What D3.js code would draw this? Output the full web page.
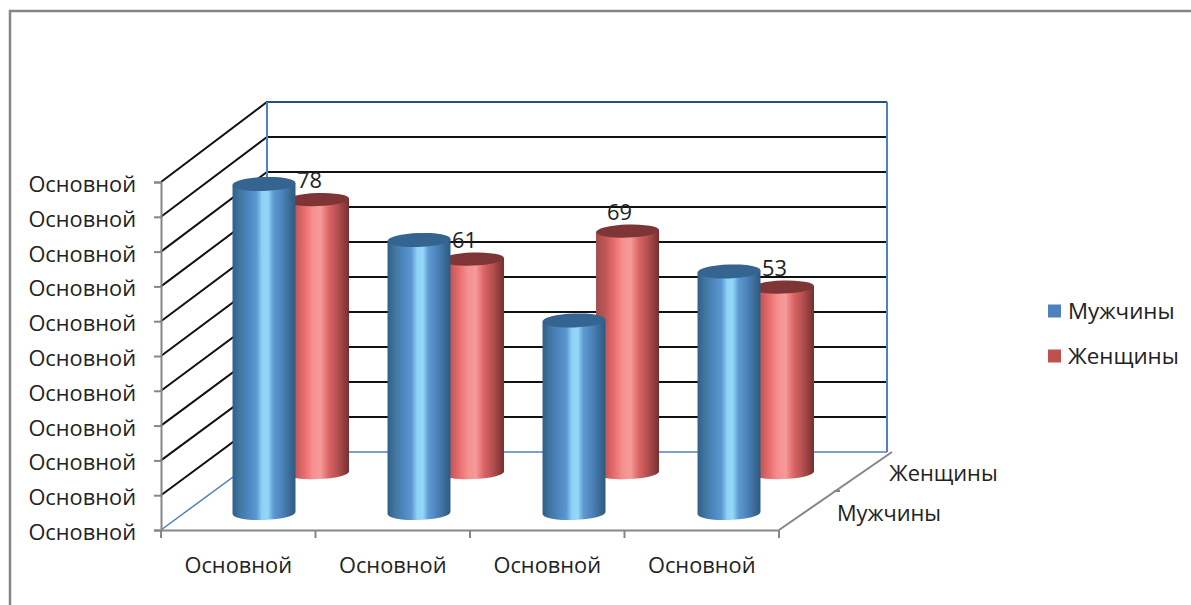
<!DOCTYPE html>
<html lang="ru">
<head>
<meta charset="utf-8">
<script src="https://cdn.jsdelivr.net/npm/d3@7"></script>
<style>
html,body{margin:0;padding:0;background:#fff;overflow:hidden}
text{font-family:"Open Sans","Noto Sans",sans-serif;font-size:21.8px;fill:#222}
</style>
</head>
<body>
<script>
// Chart data
const categories = ["Кат1", "Кат2", "Кат3", "Кат4"];
const categoryLabels = ["Основной", "Основной", "Основной", "Основной"];
const seriesNames = ["Мужчины", "Женщины"];
const men = [94, 78, 55, 69];
const women = [78, 61, 69, 53];
const yTicks = [0, 10, 20, 30, 40, 50, 60, 70, 80, 90, 100];
const yTickLabel = "Основной";

const width = 1191, height = 605;
const svg = d3.select("body").append("svg").attr("width", width).attr("height", height);
const defs = svg.append("defs");

// Horizontal shading of the cylinders
const shading = {
  men: [[0,"#2f5f8c"],[.12,"#41779f"],[.25,"#4c86bf"],[.38,"#5c97d0"],[.47,"#8fd2f5"],[.56,"#93d8f8"],[.65,"#5f9ad2"],[.8,"#4a80b8"],[.93,"#37668f"],[1,"#2b5a82"]],
  women: [[0,"#a54b4b"],[.15,"#c25656"],[.3,"#ea6f6f"],[.42,"#f58f8f"],[.55,"#f69a9a"],[.68,"#dc6464"],[.82,"#b45050"],[.95,"#883838"],[1,"#763030"]]
};
Object.entries(shading).forEach(([id, stops]) => {
  const g = defs.append("linearGradient").attr("id", "shade-" + id);
  stops.forEach(([o, c]) => g.append("stop").attr("offset", o).attr("stop-color", c));
});

// Projection: front face, plus a shift into depth for the back wall
const frontLeft = 161, frontRight = 779, frontBottom = 530;
const depthX = 106, depthY = 78;

const x = d3.scaleBand(categories, [frontLeft, frontRight]);
const barX = d3.scaleBand(categories, [frontLeft - 1, frontRight + 1]);
const yFront = d3.scaleLinear([0, 100], [frontBottom, 182]);
const yBack = d3.scaleLinear([0, 100], [frontBottom - depthY, 102]);
const barHeight = d3.scaleLinear([0, 100], [0, 350]);
const depth = d3.scalePoint(seriesNames, [0.25, 0.755]);

// Back and side walls
const walls = svg.append("g").attr("fill", "none");
yTicks.slice().reverse().forEach(t => {
  const c = t === 0 ? "#4f81bd" : "#111";
  const sw = t === 0 ? 1.5 : 2;
  walls.append("path")
    .attr("d", d3.line()([[frontLeft, yFront(t)], [frontLeft + depthX, yBack(t)], [frontLeft + depthX + (frontRight - frontLeft) + 2, yBack(t)]]))
    .attr("stroke", c).attr("stroke-width", sw);
});
walls.append("line").attr("x1", frontLeft + depthX).attr("x2", frontRight + depthX + 2)
  .attr("y1", yBack(100)).attr("y2", yBack(100)).attr("stroke", "#24507f").attr("stroke-width", 2);
[frontLeft + depthX, frontRight + depthX + 2].forEach(px => {
  walls.append("line").attr("x1", px).attr("x2", px)
    .attr("y1", yBack(100)).attr("y2", yBack(0))
    .attr("stroke", "#4f81bd").attr("stroke-width", 2);
});

// Axes
const axisColor = "#868686";
const gy = svg.append("g").attr("transform", `translate(${frontLeft},0)`)
  .call(d3.axisLeft(yFront).tickValues(yTicks).tickSize(7).tickFormat(() => yTickLabel));
gy.selectAll("text").attr("x", -25).attr("dy", "0.44em");

const gx = svg.append("g").attr("transform", `translate(0,${frontBottom})`)
  .call(d3.axisBottom(x).tickSize(0).tickFormat((d, i) => categoryLabels[i]));
gx.selectAll("text").attr("y", 35).attr("dy", "0.35em");
gx.selectAll(".tick line").remove();
d3.range(categories.length + 1).forEach(i => {
  const px = frontLeft + x.step() * i;
  gx.append("line").attr("x1", px).attr("x2", px).attr("y1", 0).attr("y2", 8);
});
[gy, gx].forEach(g => {
  g.attr("font-family", null).attr("font-size", null);
  g.selectAll("path.domain").attr("stroke", axisColor).attr("stroke-width", 2);
  g.selectAll("line").attr("stroke", axisColor).attr("stroke-width", 2);
  g.selectAll("text").attr("fill", "#222");
});

// Depth axis along the floor
const side = svg.append("g").attr("stroke", axisColor).attr("stroke-width", 2).attr("fill", "none");
side.append("path").attr("d", d3.line()([[frontRight, frontBottom], [frontRight + depthX + 7, frontBottom - depthY]]));
side.append("path").attr("d", d3.line()([[frontRight + depthX / 2 + 2, frontBottom - depthY / 2], [frontRight + depthX / 2 + 8, frontBottom - depthY / 2]]));
svg.append("text").attr("x", 943.5).attr("y", 473).attr("dy", "0.35em").attr("text-anchor", "middle").text(seriesNames[1]);
svg.append("text").attr("x", 889).attr("y", 513).attr("dy", "0.35em").attr("text-anchor", "middle").text(seriesNames[0]);

// Cylinders
const tilt = -2;
function drawCylinder(g, cx, base, h, rx, ry, id, capColor) {
  const rad = tilt * Math.PI / 180, dy = rx * Math.sin(rad), dx = rx * Math.cos(rad);
  const p = d3.path();
  p.moveTo(cx - dx, base - h - dy);
  p.lineTo(cx - dx, base - dy);
  const body = `${p.toString()}A${rx},${ry} ${tilt} 0 0 ${cx + dx},${base + dy}L${cx + dx},${base - h + dy}Z`;
  g.append("path").attr("d", body).attr("fill", `url(#shade-${id})`);
  g.append("ellipse").attr("cx", cx).attr("cy", base - h).attr("rx", rx).attr("ry", ry)
    .attr("transform", `rotate(${tilt} ${cx} ${base - h})`).attr("fill", capColor);
}

const barsBack = svg.append("g");
const labels = svg.append("g");
const barsFront = svg.append("g");

const centre = (c, s) => barX(c) + barX.bandwidth() / 2 + depth(s) * depthX;
const floorY = s => frontBottom - depth(s) * depthY + 1.5;

categories.forEach((c, i) => {
  const cx = centre(c, seriesNames[1]), base = floorY(seriesNames[1]);
  drawCylinder(barsBack, cx, base, barHeight(women[i]), 31.5, 6.5, "women", "#7f3536");
  labels.append("text").attr("x", cx - 8).attr("y", base - barHeight(women[i]) - 19)
    .attr("dy", "0.35em").attr("text-anchor", "middle").text(women[i]);
});
categories.forEach((c, i) => {
  const cx = centre(c, seriesNames[0]), base = floorY(seriesNames[0]) + 1;
  drawCylinder(barsFront, cx, base, barHeight(men[i]), 31.5, 7, "men", "#34648f");
});

// Legend
const legendColors = ["#4f81bd", "#c0504d"];
seriesNames.forEach((s, i) => {
  const ly = 311 + i * 45;
  svg.append("rect").attr("x", 1048).attr("y", ly - 6.5).attr("width", 13).attr("height", 13).attr("fill", legendColors[i]);
  svg.append("text").attr("x", 1068).attr("y", ly).attr("dy", "0.35em").style("font-size", "22.3px").text(s);
});

// Outer frame
svg.append("path").attr("d", d3.line()([[10, height], [10, 11], [width, 11]]))
  .attr("fill", "none").attr("stroke", axisColor).attr("stroke-width", 2.5);
</script>
</body>
</html>
